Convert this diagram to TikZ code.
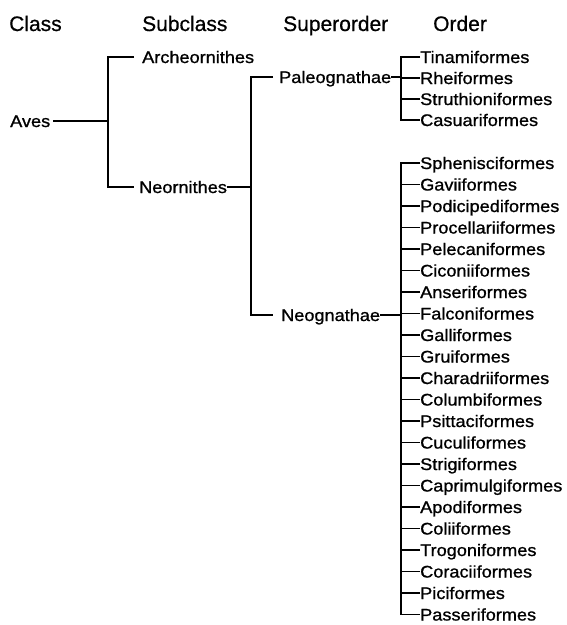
\documentclass[tikz,border=0pt]{standalone}
\usepackage{fontspec}
\setmainfont{Liberation Sans}[FakeBold=0.6]
\newfontfamily\taxonfont[FakeStretch=1.08,FakeBold=1]{Liberation Sans}
\usetikzlibrary{calc}

\tikzset{
  rank/.style={anchor=base west,inner sep=0pt,font=\fontsize{21}{24}\selectfont},
  taxon/.style={anchor=west,inner sep=0pt,text height=12pt,text depth=0pt,
    font=\taxonfont\fontsize{16.8}{20}\selectfont},
  branch/.style={line width=1.8pt}
}

\begin{document}
\begin{tikzpicture}[x=1pt,y=-1pt]
\useasboundingbox (0,0) rectangle (566,625);

% column heads
\node[rank] (hclass) at (9,31) {Class};
\node[rank] (hsub) at (142,31) {Subclass};
\node[rank] (hsuper) at (283,31) {Superorder};
\node[rank] (horder) at (433,31) {Order};

% class, subclasses, superorders
\node[taxon] (aves) at (10,121) {Aves};
\node[taxon] (archeo) at (142,57) {Archeornithes};
\node[taxon] (neorn) at (139,187) {Neornithes};
\node[taxon] (paleo) at (279,77) {Paleognathae};
\node[taxon] (neogn) at (281,315) {Neognathae};

% orders
\foreach \name [count=\i from 0] in {Tinamiformes,Rheiformes,Struthioniformes,Casuariformes}
  \node[taxon] (pal\i) at (420,{57+21*\i}) {\name};
\foreach \name [count=\i from 0] in {Sphenisciformes,Gaviiformes,Podicipediformes,
    Procellariiformes,Pelecaniformes,Ciconiiformes,Anseriformes,Falconiformes,
    Galliformes,Gruiformes,Charadriiformes,Columbiformes,Psittaciformes,
    Cuculiformes,Strigiformes,Caprimulgiformes,Apodiformes,Coliiformes,
    Trogoniformes,Coraciiformes,Piciformes,Passeriformes}
  \node[taxon] (neo\i) at (420,{163+21.5*\i}) {\name};

% junctions
\coordinate (avesJ) at (108,121);
\coordinate (neornJ) at (251,187);
\coordinate (paleoJ) at (401,77);
\coordinate (neognJ) at (401,315);

% tree
\draw[branch,shorten <=3pt] (aves.east) -- (avesJ);
\draw[branch,shorten <=8pt,shorten >=5pt] (archeo.west) -| (avesJ) |- (neorn.west);
\draw[branch] (neorn.east) -- (neornJ);
\draw[branch,shorten <=6pt,shorten >=8pt] (paleo.west) -| (neornJ) |- (neogn.west);

\draw[branch] (paleo.east) -- (paleoJ);
\draw[branch] (pal0.west) -| (paleoJ) |- (pal3.west);
\foreach \i in {1,2}
  \draw[branch] (pal\i.west) -- (pal\i.west -| paleoJ);

\draw[branch] (neogn.east) -- (neognJ);
\draw[branch] (neo0.west) -| (neognJ) |- (neo21.west);
\foreach \i in {1,...,20}
  \draw[branch] (neo\i.west) -- (neo\i.west -| neognJ);

\end{tikzpicture}
\end{document}
